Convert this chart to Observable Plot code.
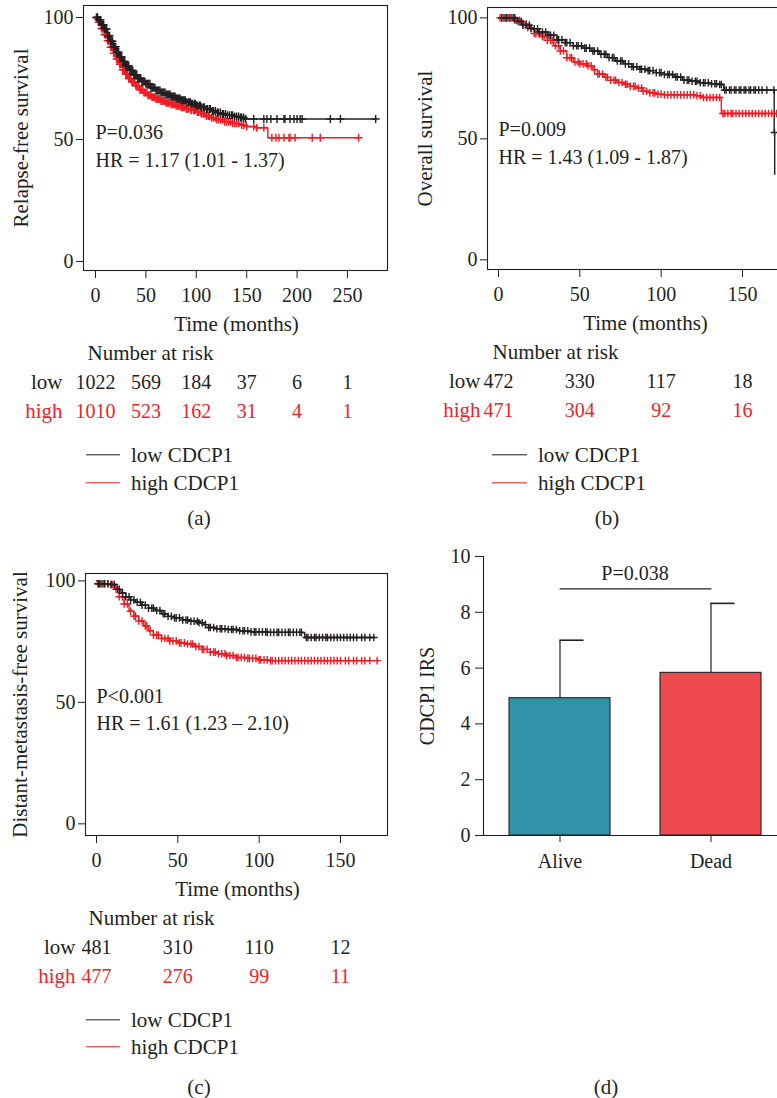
<!DOCTYPE html>
<html><head><meta charset="utf-8">
<script src="https://cdn.jsdelivr.net/npm/d3@7"></script>
<script src="https://cdn.jsdelivr.net/npm/@observablehq/plot@0.6"></script>
<style>
body{margin:0;background:#fff;}
#fig{position:relative;width:777px;height:1098px;overflow:hidden;font-family:"Liberation Serif","DejaVu Serif",serif;color:#231f20;background:#fff;}
.t{position:absolute;font-size:21px;white-space:nowrap;line-height:1;}
.c{transform:translate(-50%,-50%);}
.l{transform:translate(0,-50%);}
.ln{position:absolute;height:1.4px;transform:translate(0,-50%);}
</style></head><body><div id="fig"></div>
<script>
// ---------- DATA ----------
const INK = "#231f20", RED = "#ed1c24", RED_TEXT = "#e8262b";
const kmYTicks = [0, 50, 100];
const groupLabels = ["low", "high"];
const legendLabels = ["low CDCP1", "high CDCP1"];

// (a) Relapse-free survival
const aLowT = [0,3,6,9,12,15,18,21,24,27,30,34,38,42,46,50,55,60,65,70,75,80,85,90,95,100,105,110,115,120,125,130,137,143,148,278];
const aLowS = [100,99,97,95.3,92.5,90.3,88,85.8,83.8,82,80.2,78.3,76.5,75,73.8,72.8,71.2,70.1,69.2,68.4,67.6,66.8,66.1,65.3,64.6,63.9,63.2,62.5,61.7,61,60.4,59.9,59.4,59,58.4,58.4];
const aHighT = [0,3,6,9,12,15,18,21,24,27,30,33,36,40,44,48,52,56,60,65,70,75,80,85,90,95,100,105,110,114,120,128,135,143,150,160,171,261];
const aHighS = [100,98,95.5,93,90.5,87.8,85.3,83,80.8,78.6,76.7,75,73.6,72,70.4,69.2,68.1,67.3,66.6,65.8,65,64.4,63.8,63.2,62.6,62,61.3,60.5,59.6,58.9,58.2,57.3,56.6,55.9,55.3,54.8,50.7,50.7];
const aLowCens = [1,2,3,4,5,6,7,8,9,10,11,12,13,14,15,16,17,18,19,20,21,22,23,24,25,26,27,28,29,30,31,32,33,34,35,36,37,38,39,40,41,42,43,44,45,46,47,48,49,50,51,52,53,54,55,56,57,58,59,60,61,62,63,64,65,66,67,68,69,70,71,72,73,74,75,76,77,78,79,80,81,82,83,84,85,86,87,88,89,90,92,93,94,95,96,98,99,100,101,103,104,105,107,108,110,111,113,114,116,117,119,121,122,124,126,127,129,131,133,135,136,138,140,142,144,145,147,149,157,167,170,174,180,187,188,193,197,200,203,205,233,243,278];
const aHighCens = [1,2,3,4,5,6,7,8,9,10,11,12,13,14,15,16,17,18,19,20,21,22,23,24,25,26,27,28,29,30,31,32,33,34,35,36,37,38,39,40,41,42,43,44,45,46,47,48,49,50,51,52,53,54,55,56,57,58,59,60,61,62,63,64,65,66,67,68,69,70,71,72,73,74,75,76,77,78,79,80,81,82,83,84,85,86,87,88,90,91,92,94,95,97,98,99,101,102,104,105,107,108,110,112,113,115,117,119,120,122,124,126,128,130,132,134,136,138,140,142,145,147,150,157,160,167,175,179,182,187,192,193,198,215,223,261];
const aRiskT = [0,50,100,150,200,250];
const aRiskLow = [1022,569,184,37,6,1];
const aRiskHigh = [1010,523,162,31,4,1];

// (b) Overall survival
const bLowT = [0,9,12,15,20,25,30,36,41,46,52,57,62,67,72,77,82,87,92,97,102,108,113,118,124,130,136,138.5,169.5,169.8];
const bLowS = [100,100,98.5,97,95.5,94.2,92.8,91,89.8,88.5,87.5,86.3,85,83.6,82.2,81,79.8,78.8,78.2,77.4,76.6,75.6,74.3,73.8,73.2,72.8,72.5,70.2,52.6,35.4];
const bHighT = [0,7,10,14,18,22,26,30,34,38,42,46,50,55,58,61,65,69,73,77,81,85,89,93,97,102,122,125,137,171];
const bHighS = [100,100,99,97.5,96,93.5,92.3,90.7,88.5,86.3,83.5,81.8,81,80.2,78.5,76.8,75.4,74.2,73.3,72.6,71.7,71,69.7,69,68.5,68.2,67.8,67.1,60.5,60.5];
const bLowCens = [2,4,5,7,9,10,12,14,15,17,19,20,22,24,25,27,29,31,32,34,36,37,39,41,42,44,46,48,49,51,53,54,56,58,59,61,63,65,66,68,70,71,73,75,76,78,80,82,83,85,87,88,90,92,93,95,97,99,100,102,104,105,107,109,110,112,114,116,117,119,121,122,124,126,127,129,131,133,134,136,137,139,140,142,143,145,146,148,149,151,152,154,155,157,158,160,162,165,169.3,169.65];
const bHighCens = [1,3,5,6,8,10,11,13,15,17,18,20,22,23,25,27,28,30,32,33,35,37,38,40,42,44,45,47,49,50,52,54,55,57,59,61,62,64,66,67,69,71,72,74,76,78,79,81,83,84,86,88,89,91,93,95,96,98,100,102,104,106,108,110,112,114,116,118,120,122,124,126,128,130,132,134,136,138,139,141,143,144,146,148,150,152,154,156,158,160,162,164,166,168,171];
const bRiskT = [0,50,100,150];
const bRiskLow = [472,330,117,18];
const bRiskHigh = [471,304,92,16];

// (c) Distant-metastasis-free survival
const cLowT = [0,0.8,9,12,15,18,21,24,28,32,36,40,44,48,53,58,63,66,69,73,80,88,95,105,127,128,170.5];
const cLowS = [100,98.8,98.5,96.5,95,93.5,92.2,91.2,90,88.8,87.8,86.5,85.4,84.8,83.9,83.4,82.8,82,80.8,80.3,80,79.5,79,78.8,78.6,76.7,76.7];
const cHighT = [0,0.8,8,11,14,17,20,23,26,29,32,35,40,45,50,55,60,65,70,75,80,86,92,100,106,172.5];
const cHighS = [100,98.8,98.5,96.5,93.5,90.5,87.5,85.5,83.5,81.5,79.5,77.7,76.3,75.3,74.5,74,73,71.8,70.7,70,69.3,68.5,68.1,67.5,67.2,67.2];
const cLowCens = [1,2,4,5,7,9,11,13,14,16,18,20,21,23,25,27,28,30,32,34,35,37,39,41,42,44,46,48,49,51,53,55,56,58,60,62,63,65,67,69,70,72,74,76,77,79,81,83,84,86,88,90,91,93,95,97,98,100,102,104,105,107,109,111,112,114,116,118,119,121,123,125,126,129,130,132,134,135,137,139,141,142,144,146,148,150,152,154,156,158,160,163,165,168,170.5];
const cHighCens = [1,2,3,5,7,9,10,12,14,16,17,19,21,23,24,26,28,30,31,33,35,37,38,40,42,44,45,47,49,51,52,54,56,58,59,61,63,65,66,68,70,72,73,75,77,79,80,82,84,86,87,89,91,93,94,96,98,100,101,103,105,107,108,110,112,114,116,118,120,122,124,126,128,130,132,134,136,138,140,142,144,146,148,150,153,155,158,160,163,165,168,172.5];
const cRiskT = [0,50,100,150];
const cRiskLow = [481,310,110,12];
const cRiskHigh = [477,276,99,11];

// (d) CDCP1 IRS
const groups = ["Alive", "Dead"];
const irsMean = [4.92, 5.83];
const irsSD = [2.08, 2.49];
const barColors = ["#3193a8", "#ee4a4f"];
const irsTicks = [0, 2, 4, 6, 8, 10];
const sigY = 8.84, sigTextY = 9.39, sigText = "P=0.038";

// ---------- HELPERS ----------
const fig = document.getElementById("fig");
const FONT = '"Liberation Serif","DejaVu Serif",serif';
const plusSymbol = {draw(ctx, size) {const r = Math.sqrt(size / Math.PI); ctx.moveTo(-r, 0); ctx.lineTo(r, 0); ctx.moveTo(0, -r); ctx.lineTo(0, r);}};
function stepAt(T, S, t) {let v = S[0]; for (let i = 0; i < T.length; i++) if (T[i] <= t) v = S[i]; return v;}
function place(el, left, top, w) {
  const d = document.createElement("div");
  d.style.cssText = `position:absolute;left:${left}px;top:${top}px;width:${w}px;`;
  d.appendChild(el); fig.appendChild(d);
}
function txt(s, x, y, cls, color) {
  const e = document.createElement("div");
  e.className = "t " + cls; e.textContent = s;
  e.style.left = x + "px"; e.style.top = y + "px"; if (color) e.style.color = color;
  fig.appendChild(e);
}
function legend(x, y1, y2, w) {
  [[y1, INK, legendLabels[0]], [y2, RED, legendLabels[1]]].forEach(([y, col, lab]) => {
    const l = document.createElement("div"); l.className = "ln";
    l.style.left = x + "px"; l.style.top = y + "px"; l.style.width = w + "px"; l.style.background = col;
    fig.appendChild(l);
    txt(lab, x + w + 11, y, "l", INK);
  });
}

function km(p) {
  const rows = (T, S) => T.map((t, i) => ({t, s: S[i]}));
  const cens = (C, T, S) => C.map(t => ({t, s: stepAt(T, S, t)}));
  const risk = (T, N) => T.map((t, i) => ({t, n: String(N[i])}));
  const num = {fontSize: 20, lineAnchor: "middle"};
  const word = {fontSize: 21, lineAnchor: "middle"};
  return Plot.plot({
    width: p.width, height: p.height,
    marginLeft: p.mL, marginRight: p.mR, marginTop: p.mT, marginBottom: p.mB,
    style: {fontFamily: FONT, fontSize: "20px", color: INK, background: "transparent", maxWidth: "none", overflow: "visible"},
    x: {domain: p.xDom}, y: {domain: p.yDom},
    marks: [
      Plot.frame({stroke: INK, strokeWidth: 1.1}),
      Plot.axisX(p.xTicks, {tickSize: 8, tickPadding: 9, fontSize: 20, label: null}),
      Plot.axisY(kmYTicks, {tickSize: 7, tickPadding: 3, fontSize: 20, label: null}),
      Plot.line(rows(p.lowT, p.lowS), {x: "t", y: "s", curve: "step-after", stroke: INK, strokeWidth: 1.4}),
      Plot.line(rows(p.highT, p.highS), {x: "t", y: "s", curve: "step-after", stroke: RED, strokeWidth: 1.4}),
      Plot.dot(cens(p.highC, p.highT, p.highS), {x: "t", y: "s", symbol: plusSymbol, r: p.plusR, stroke: RED, fill: "none", strokeWidth: 1.4}),
      Plot.dot(cens(p.lowC, p.lowT, p.lowS), {x: "t", y: "s", symbol: plusSymbol, r: p.plusR, stroke: INK, fill: "none", strokeWidth: 1.4}),
      Plot.text([p.pText, p.hrText], {x: () => 0, y: (d, i) => [p.pY, p.hrY][i], text: d => d, textAnchor: "start", fill: INK, ...num}),
      Plot.text([p.ylab], {frameAnchor: "left", rotate: -90, dx: p.ylabDx, text: d => d, textAnchor: "middle", fill: INK, ...word}),
      Plot.text(["Time (months)"], {frameAnchor: "bottom", dy: 54, dx: p.timeDx, text: d => d, textAnchor: "middle", fill: INK, ...word}),
      Plot.text(["Number at risk"], {frameAnchor: "bottom-left", dx: p.narDx, dy: 83, text: d => d, textAnchor: "middle", fill: INK, ...word}),
      Plot.text([groupLabels[0]], {frameAnchor: "bottom-left", dx: p.lowDx, dy: 112, text: d => d, textAnchor: "end", fill: INK, ...word}),
      Plot.text([groupLabels[1]], {frameAnchor: "bottom-left", dx: p.lowDx, dy: 141, text: d => d, textAnchor: "end", fill: RED_TEXT, ...word}),
      Plot.text(risk(p.riskT, p.riskLow), {x: "t", text: "n", frameAnchor: "bottom", dy: 112, textAnchor: "middle", fill: INK, ...num}),
      Plot.text(risk(p.riskT, p.riskHigh), {x: "t", text: "n", frameAnchor: "bottom", dy: 141, textAnchor: "middle", fill: RED_TEXT, ...num})
    ]
  });
}

// (a)
place(km({width: 390, height: 430, mL: 83, mR: 3, mT: 5, mB: 160, xDom: [-11.9, 289.7], yDom: [-3.7, 104.9], plusR: 4,
  xTicks: [0, 50, 100, 150, 200, 250], lowT: aLowT, lowS: aLowS, highT: aHighT, highS: aHighS, lowC: aLowCens, highC: aHighCens,
  pText: "P=0.036", hrText: "HR = 1.17 (1.01 - 1.37)", pY: 52.9, hrY: 41.4, ylab: "Relapse-free survival", ylabDx: -62,
  timeDx: 1, narDx: 67, lowDx: -21, riskT: aRiskT, riskLow: aRiskLow, riskHigh: aRiskHigh}), 0, 0, 390);
// (b)
place(km({width: 400, height: 430, mL: 97, mR: 1, mT: 7, mB: 161, xDom: [-6.76, 178.9], yDom: [-4.0, 104.3], plusR: 3.8,
  xTicks: [0, 50, 100, 150], lowT: bLowT, lowS: bLowS, highT: bHighT, highS: bHighS, lowC: bLowCens, highC: bHighCens,
  pText: "P=0.009", hrText: "HR = 1.43 (1.09 - 1.87)", pY: 53.8, hrY: 42.3, ylab: "Overall survival", ylabDx: -62,
  timeDx: 7, narDx: 68, lowDx: -7, riskT: bRiskT, riskLow: bRiskLow, riskHigh: bRiskHigh}), 390, 0, 400);
// (c)
place(km({width: 390, height: 430, mL: 85, mR: 3, mT: 13, mB: 155, xDom: [-6.76, 178.9], yDom: [-4.8, 103.05], plusR: 3.8,
  xTicks: [0, 50, 100, 150], lowT: cLowT, lowS: cLowS, highT: cHighT, highS: cHighS, lowC: cLowCens, highC: cHighCens,
  pText: "P<0.001", hrText: "HR = 1.61 (1.23 \u2013 2.10)", pY: 52.5, hrY: 41.3, ylab: "Distant-metastasis-free survival", ylabDx: -65,
  timeDx: 1, narDx: 66, lowDx: -10, riskT: cRiskT, riskLow: cRiskLow, riskHigh: cRiskHigh}), 0, 560, 390);

// (d)
const irs = groups.map((g, i) => ({g, m: irsMean[i], sd: irsSD[i], color: barColors[i]}));
const sigRows = groups.map(g => ({g, y: sigY}));
place(Plot.plot({
  width: 400, height: 330, marginLeft: 93, marginRight: 4, marginTop: 16, marginBottom: 35,
  style: {fontFamily: FONT, fontSize: "20px", color: INK, background: "transparent", maxWidth: "none", overflow: "visible"},
  x: {type: "band", domain: groups, paddingInner: 0.333, paddingOuter: 0.165},
  y: {domain: [0, 10]},
  color: {type: "identity"},
  marks: [
    Plot.ruleX(irs, {x: "g", y1: "m", y2: d => d.m + d.sd, stroke: INK, strokeWidth: 1.2}),
    Plot.tickY(irs, {x: "g", y: d => d.m + d.sd, stroke: INK, strokeWidth: 1.6, insetLeft: 50.5, insetRight: 26.5}),
    Plot.barY(irs, {x: "g", y: "m", fill: "color", stroke: INK, strokeWidth: 1.1}),
    Plot.frame({anchor: "left", stroke: INK, strokeWidth: 1.1}),
    Plot.ruleY([0], {stroke: INK, strokeWidth: 1.1, insetLeft: -8}),
    Plot.axisY(irsTicks, {tickSize: 8, tickPadding: 5, fontSize: 20, label: null}),
    Plot.axisX({tickSize: 7, tickPadding: 11, fontSize: 20, label: null}),
    Plot.line(sigRows, {x: "g", y: "y", stroke: INK, strokeWidth: 1.1}),
    Plot.text([sigText], {y: () => sigTextY, frameAnchor: "middle", text: d => d, fontSize: 20, fill: INK}),
    Plot.text(["CDCP1 IRS"], {frameAnchor: "left", rotate: -90, dx: -56, text: d => d, textAnchor: "middle", lineAnchor: "middle", fontSize: 20, fill: INK})
  ]
}), 390, 540, 400);

// legends and panel captions
legend(86, 455, 483, 34);
legend(492, 455, 483, 35);
legend(86, 1020, 1047, 34);
txt("(a)", 199, 518, "c"); txt("(b)", 607, 518, "c");
txt("(c)", 199, 1087, "c"); txt("(d)", 606, 1087, "c");
</script></body></html>
